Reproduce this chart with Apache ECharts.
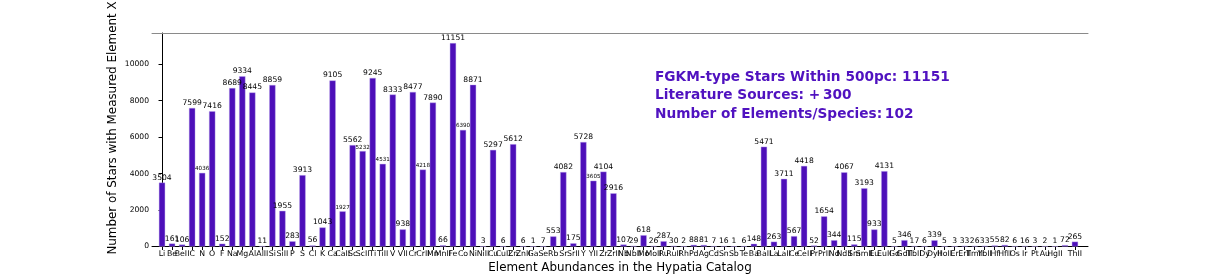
<!DOCTYPE html>
<html>
<head>
<meta charset="utf-8">
<script src="https://cdn.jsdelivr.net/npm/echarts@6/dist/echarts.min.js"></script>
<style>
html,body{margin:0;padding:0;background:#fff;}
#chart{width:1218px;height:277px;}
</style>
</head>
<body>
<div id="chart"></div>
<script>
var categories = ["Li","Be","BeII","C","N","O","F","Na","Mg","Al","AlII","Si","SiII","P","S","Cl","K","Ca","CaII","Sc","ScII","Ti","TiII","V","VII","Cr","CrII","Mn","MnII","Fe","Co","Ni","NiII","Cu","CuII","Zn","ZnII","Ga","Se","Rb","Sr","SrII","Y","YII","Zr","ZrII","Nb","NbII","Mo","MoII","Ru","RuII","Rh","Pd","Ag","Cd","Sn","Sb","Te","Ba","BaII","La","LaII","Ce","CeII","Pr","PrII","Nd","NdII","Sm","SmII","Eu","EuII","Gd","GdII","TbII","Dy","DyII","HoII","Er","ErII","TmII","YbII","Hf","HfII","Os","Ir","Pt","Au","HgII","Pb","ThII"];
var counts = [3504,161,106,7599,4036,7416,152,8689,9334,8445,11,8859,1955,283,3913,56,1043,9105,1927,5562,5232,9245,4531,8333,938,8477,4218,7890,66,11151,6390,8871,3,5297,6,5612,6,1,7,553,4082,175,5728,3605,4104,2916,107,29,618,26,287,30,2,88,81,7,16,1,6,148,5471,263,3711,567,4418,52,1654,344,4067,115,3193,933,4131,5,346,17,6,339,5,3,33,26,33,55,82,6,16,3,2,1,72,265];
var smallLabels = ["N","CaII","ScII","TiII","CrII","Co","YII"];
var yTicks = [0,2000,4000,6000,8000,10000];
var infoLines = ["FGKM-type Stars Within 500pc: 11151","Literature Sources: +\u2009300","Number of Elements/Species:\u2009102"];
var xTitle = 'Element Abundances in the Hypatia Catalog';
var yTitle = 'Number of Stars with Measured Element X';

var purple = '#4D0FB9';
var font = 'DejaVu Sans';
var idx = categories.map(function(c,i){return i;});
var barData = categories.map(function(c,i){
  var d = {value:[i, counts[i]]};
  if (smallLabels.indexOf(c) >= 0) d.label = {fontSize:5.6};
  return d;
});

var chart = echarts.init(document.getElementById('chart'), null, {renderer:'canvas'});
chart.setOption({
  animation:false,
  backgroundColor:'#fff',
  textStyle:{fontFamily:font},
  grid:{left:152, right:130, top:33, bottom:30.5, containLabel:false, outerBoundsMode:'none'},
  xAxis:[{
    type:'value', min:-1, max:92.3, position:'bottom',
    name:xTitle, nameLocation:'middle', nameGap:15.5,
    nameTextStyle:{fontFamily:font, fontSize:11.9, color:'#000'},
    axisLine:{show:true, lineStyle:{color:'#000', width:1}},
    axisTick:{show:true, length:3.5, lineStyle:{color:'#000'}, customValues:idx},
    axisLabel:{show:true, customValues:idx, fontFamily:font, fontSize:7.8, color:'#000', margin:3,
      hideOverlap:false, showMinLabel:true, showMaxLabel:true,
      formatter:function(v){ var i=Math.round(v); return (Math.abs(v-i)<1e-6 && i>=0 && i<categories.length)?categories[i]:''; }},
    splitLine:{show:false}
  },{
    type:'value', min:-1, max:92.3, position:'top',
    axisLine:{show:true, lineStyle:{color:'#8a8a8a', width:1}},
    axisTick:{show:false}, axisLabel:{show:false}, splitLine:{show:false}
  }],
  yAxis:{
    type:'value', min:0, max:11709,
    axisLine:{show:true, lineStyle:{color:'#000', width:1}},
    axisTick:{show:true, length:3.5, lineStyle:{color:'#000'}, customValues:yTicks},
    axisLabel:{show:true, customValues:yTicks, fontFamily:font, fontSize:7.6, color:'#000', margin:3,
      formatter:function(v){return String(v);}},
    splitLine:{show:false}
  },
  series:[{
    type:'bar', xAxisIndex:0, yAxisIndex:0,
    barWidth:6.2,
    itemStyle:{color:purple, borderColor:'#b9a2ee', borderWidth:0.4},
    label:{show:true, position:'top', distance:1, fontFamily:font, fontSize:7.6, color:'#000',
      formatter:function(p){return String(p.value[1]);}},
    data:barData
  }],
  graphic:infoLines.map(function(t,i){
    return {type:'text', left:655, top:70 + i*18.5,
      style:{text:t, fill:'#5012C0', font:'bold 13.7px "DejaVu Sans"'}};
  }).concat([{
    type:'text', x:113, y:128, rotation:Math.PI/2,
    style:{text:yTitle, fill:'#000', font:'11.9px "DejaVu Sans"', align:'center', verticalAlign:'middle'}
  }])
});
</script>
</body>
</html>
